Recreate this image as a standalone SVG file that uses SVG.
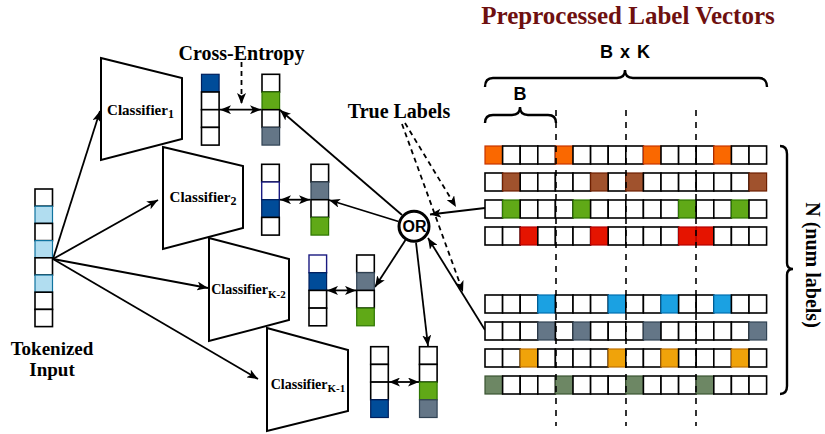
<svg xmlns="http://www.w3.org/2000/svg" width="825" height="434" viewBox="0 0 825 434">
<defs>
<marker id="arr" viewBox="0 0 11 9" refX="11" refY="4.5" markerWidth="11" markerHeight="9" markerUnits="userSpaceOnUse" orient="auto-start-reverse">
<path d="M0,0 L11,4.5 L0,9 L2.8,4.5 z" fill="#000"/>
</marker>
</defs>
<style>
.c{fill:#fff;stroke:#000;stroke-width:1.6}
.lb{fill:#b1ddf0;stroke:#10739e;stroke-width:1.2}
.db{fill:#004c99;stroke:#001f5c;stroke-width:1.2}
.nv{fill:#fff;stroke:#1a1a80;stroke-width:1.4}
.gr{fill:#60a917;stroke:#2d7600;stroke-width:1.2}
.sl{fill:#647687;stroke:#314354;stroke-width:1.2}
.or{fill:#fa6800;stroke:#c73500;stroke-width:1.2}
.br{fill:#a0522d;stroke:#6d1f00;stroke-width:1.2}
.rd{fill:#e51400;stroke:#b20000;stroke-width:1.2}
.bl{fill:#1ba1e2;stroke:#006eaf;stroke-width:1.2}
.am{fill:#f0a30a;stroke:#bd7000;stroke-width:1.2}
.ol{fill:#6d8764;stroke:#3a5431;stroke-width:1.2}
.clf{fill:#fff;stroke:#000;stroke-width:2}
.ar{fill:none;stroke:#000;stroke-width:1.8;marker-end:url(#arr)}
.da{fill:none;stroke:#000;stroke-width:1.8;stroke-dasharray:5 4;marker-end:url(#arr)}
.dd{fill:none;stroke:#000;stroke-width:1.6;stroke-dasharray:6 6}
.brace{fill:none;stroke:#000;stroke-width:2.4}
.serif{font-family:"Liberation Serif","Times New Roman",serif;font-weight:bold}
.sans{font-family:"Liberation Sans",Arial,sans-serif;font-weight:bold}
</style>

<g id="connectors">
<line class="ar" x1="53" y1="259" x2="100" y2="111"/>
<line class="ar" x1="53" y1="259" x2="158" y2="200"/>
<line class="ar" x1="53" y1="259" x2="208" y2="288"/>
<line class="ar" x1="53" y1="259" x2="258" y2="379"/>
<line class="ar" x1="220" y1="109.7" x2="261" y2="109.7" marker-start="url(#arr)"/>
<line class="ar" x1="280" y1="199.7" x2="310" y2="199.7" marker-start="url(#arr)"/>
<line class="ar" x1="327" y1="290.4" x2="356" y2="290.4" marker-start="url(#arr)"/>
<line class="ar" x1="389" y1="382" x2="419" y2="382" marker-start="url(#arr)"/>
<line class="da" x1="241.5" y1="62" x2="241.5" y2="104"/>
<line class="ar" x1="402" y1="215" x2="280" y2="110"/>
<line class="ar" x1="398.5" y1="221.5" x2="329" y2="200"/>
<line class="ar" x1="405.5" y1="240" x2="375" y2="287"/>
<line class="ar" x1="416" y1="242.5" x2="428" y2="346"/>
<line class="ar" x1="485" y1="208" x2="430" y2="214.5"/>
<line class="ar" x1="485" y1="330" x2="428" y2="238"/>
<line class="da" x1="405" y1="123" x2="456" y2="207"/>
<line class="da" x1="402" y1="124" x2="463" y2="292"/>
</g>

<g id="tokenized-input">
<rect class="c" x="35" y="189" width="17.5" height="17.2"/>
<rect class="lb" x="35" y="206.2" width="17.5" height="17.2"/>
<rect class="c" x="35" y="223.4" width="17.5" height="17.2"/>
<rect class="lb" x="35" y="240.6" width="17.5" height="17.2"/>
<rect class="c" x="35" y="257.8" width="17.5" height="17.2"/>
<rect class="lb" x="35" y="275" width="17.5" height="17.2"/>
<rect class="c" x="35" y="292.2" width="17.5" height="17.2"/>
<rect class="c" x="35" y="309.4" width="17.5" height="17.2"/>
<text class="serif" font-size="19" text-anchor="middle" x="52" y="355">Tokenized</text>
<text class="serif" font-size="19" text-anchor="middle" x="52" y="376">Input</text>
</g>

<g id="classifier-1">
<polygon class="clf" points="101,58 182,78 182,139 101,160"/>
<text class="serif" font-size="15" text-anchor="middle" x="140.5" y="115">Classifier<tspan font-size="12" dy="3">1</tspan></text>
</g>
<g id="classifier-2">
<polygon class="clf" points="163,147 243,166 243,228 163,249"/>
<text class="serif" font-size="15" text-anchor="middle" x="203" y="202">Classifier<tspan font-size="12" dy="3">2</tspan></text>
</g>
<g id="classifier-k2">
<polygon class="clf" points="209,238 289,259 289,320 209,341"/>
<text class="serif" font-size="14" text-anchor="middle" x="248.5" y="294">Classifier<tspan font-size="11" dy="3.5">K-2</tspan></text>
</g>
<g id="classifier-k1">
<polygon class="clf" points="267,328 348,350 348,411 267,431"/>
<text class="serif" font-size="14" text-anchor="middle" x="308" y="388.5">Classifier<tspan font-size="11" dy="3.5">K-1</tspan></text>
</g>

<g id="pred-1">
<rect class="db" x="201.5" y="74.3" width="17.6" height="17.7"/>
<rect class="c" x="201.5" y="92" width="17.6" height="17.7"/>
<rect class="c" x="201.5" y="109.7" width="17.6" height="17.7"/>
<rect class="c" x="201.5" y="127.4" width="17.6" height="17.7"/>
</g>
<g id="label-1">
<rect class="c" x="262" y="74.3" width="17.6" height="17.7"/>
<rect class="gr" x="262" y="92" width="17.6" height="17.7"/>
<rect class="c" x="262" y="109.7" width="17.6" height="17.7"/>
<rect class="sl" x="262" y="127.4" width="17.6" height="17.7"/>
</g>
<g id="pred-2">
<rect class="c" x="261.7" y="164.3" width="17.6" height="17.7"/>
<rect class="nv" x="261.7" y="182" width="17.6" height="17.7"/>
<rect class="db" x="261.7" y="199.7" width="17.6" height="17.7"/>
<rect class="c" x="261.7" y="217.4" width="17.6" height="17.7"/>
</g>
<g id="label-2">
<rect class="c" x="311" y="164.3" width="17.6" height="17.7"/>
<rect class="sl" x="311" y="182" width="17.6" height="17.7"/>
<rect class="c" x="311" y="199.7" width="17.6" height="17.7"/>
<rect class="gr" x="311" y="217.4" width="17.6" height="17.7"/>
</g>
<g id="pred-k2">
<rect class="nv" x="309" y="255" width="17.6" height="17.7"/>
<rect class="db" x="309" y="272.7" width="17.6" height="17.7"/>
<rect class="c" x="309" y="290.4" width="17.6" height="17.7"/>
<rect class="c" x="309" y="308.1" width="17.6" height="17.7"/>
</g>
<g id="label-k2">
<rect class="c" x="356.7" y="255" width="17.6" height="17.7"/>
<rect class="sl" x="356.7" y="272.7" width="17.6" height="17.7"/>
<rect class="c" x="356.7" y="290.4" width="17.6" height="17.7"/>
<rect class="gr" x="356.7" y="308.1" width="17.6" height="17.7"/>
</g>
<g id="pred-k1">
<rect class="c" x="370.7" y="346.7" width="17.6" height="17.7"/>
<rect class="c" x="370.7" y="364.4" width="17.6" height="17.7"/>
<rect class="c" x="370.7" y="382.1" width="17.6" height="17.7"/>
<rect class="db" x="370.7" y="399.8" width="17.6" height="17.7"/>
</g>
<g id="label-k1">
<rect class="c" x="419.5" y="346.7" width="17.6" height="17.7"/>
<rect class="c" x="419.5" y="364.4" width="17.6" height="17.7"/>
<rect class="gr" x="419.5" y="382.1" width="17.6" height="17.7"/>
<rect class="sl" x="419.5" y="399.8" width="17.6" height="17.7"/>
</g>

<g id="cross-entropy">
<text class="serif" font-size="20" text-anchor="middle" x="241.5" y="60">Cross-Entropy</text>
</g>
<g id="true-labels">
<text class="serif" font-size="20" text-anchor="middle" x="399" y="118">True Labels</text>
</g>

<g id="or-node">
<circle cx="414" cy="226.3" r="15" fill="#fff" stroke="#000" stroke-width="3"/>
<text class="sans" font-size="16" text-anchor="middle" x="414.5" y="232">OR</text>
</g>

<g id="label-vectors">
<text x="628" y="24" font-size="25" text-anchor="middle" fill="#6e1010" class="serif">Preprocessed Label Vectors</text>
<text class="sans" font-size="18" text-anchor="middle" x="625" y="58" word-spacing="2">B x K</text>
<path class="brace" d="M485,87 Q485,78 493,78 L617,78 Q625,78 625,70 Q625,78 633,78 L759,78 Q767,78 767,87"/>
<text class="sans" font-size="18" text-anchor="middle" x="520" y="100">B</text>
<path class="brace" d="M485,123 Q485,115 493,115 L512,115 Q520,115 520,107 Q520,115 528,115 L548,115 Q556,115 556,123"/>
<path class="brace" d="M780,146 Q787,146 787,154 L787,263 Q787,269 793,269 Q787,269 787,275 L787,386 Q787,394 780,394"/>
<text class="serif" font-size="20" text-anchor="middle" transform="translate(806,265) rotate(90)">N (num labels)</text>
<g id="rows">
<g id="row1">
<rect class="or" x="485" y="146" width="17.6" height="18"/><rect class="c" x="502.6" y="146" width="17.6" height="18"/><rect class="c" x="520.2" y="146" width="17.6" height="18"/><rect class="c" x="537.8" y="146" width="17.6" height="18"/><rect class="or" x="555.4" y="146" width="17.6" height="18"/><rect class="c" x="573" y="146" width="17.6" height="18"/><rect class="c" x="590.6" y="146" width="17.6" height="18"/><rect class="c" x="608.2" y="146" width="17.6" height="18"/><rect class="c" x="625.8" y="146" width="17.6" height="18"/><rect class="or" x="643.4" y="146" width="17.6" height="18"/><rect class="c" x="661" y="146" width="17.6" height="18"/><rect class="c" x="678.6" y="146" width="17.6" height="18"/><rect class="c" x="696.2" y="146" width="17.6" height="18"/><rect class="or" x="713.8" y="146" width="17.6" height="18"/><rect class="c" x="731.4" y="146" width="17.6" height="18"/><rect class="c" x="749" y="146" width="17.6" height="18"/>
</g>
<g id="row2">
<rect class="c" x="485" y="173" width="17.6" height="18"/><rect class="br" x="502.6" y="173" width="17.6" height="18"/><rect class="c" x="520.2" y="173" width="17.6" height="18"/><rect class="c" x="537.8" y="173" width="17.6" height="18"/><rect class="c" x="555.4" y="173" width="17.6" height="18"/><rect class="c" x="573" y="173" width="17.6" height="18"/><rect class="br" x="590.6" y="173" width="17.6" height="18"/><rect class="c" x="608.2" y="173" width="17.6" height="18"/><rect class="br" x="625.8" y="173" width="17.6" height="18"/><rect class="c" x="643.4" y="173" width="17.6" height="18"/><rect class="c" x="661" y="173" width="17.6" height="18"/><rect class="c" x="678.6" y="173" width="17.6" height="18"/><rect class="c" x="696.2" y="173" width="17.6" height="18"/><rect class="c" x="713.8" y="173" width="17.6" height="18"/><rect class="c" x="731.4" y="173" width="17.6" height="18"/><rect class="br" x="749" y="173" width="17.6" height="18"/>
</g>
<g id="row3">
<rect class="c" x="485" y="200" width="17.6" height="18"/><rect class="gr" x="502.6" y="200" width="17.6" height="18"/><rect class="c" x="520.2" y="200" width="17.6" height="18"/><rect class="c" x="537.8" y="200" width="17.6" height="18"/><rect class="c" x="555.4" y="200" width="17.6" height="18"/><rect class="gr" x="573" y="200" width="17.6" height="18"/><rect class="c" x="590.6" y="200" width="17.6" height="18"/><rect class="c" x="608.2" y="200" width="17.6" height="18"/><rect class="c" x="625.8" y="200" width="17.6" height="18"/><rect class="c" x="643.4" y="200" width="17.6" height="18"/><rect class="c" x="661" y="200" width="17.6" height="18"/><rect class="gr" x="678.6" y="200" width="17.6" height="18"/><rect class="c" x="696.2" y="200" width="17.6" height="18"/><rect class="c" x="713.8" y="200" width="17.6" height="18"/><rect class="gr" x="731.4" y="200" width="17.6" height="18"/><rect class="c" x="749" y="200" width="17.6" height="18"/>
</g>
<g id="row4">
<rect class="c" x="485" y="227" width="17.6" height="18"/><rect class="c" x="502.6" y="227" width="17.6" height="18"/><rect class="rd" x="520.2" y="227" width="17.6" height="18"/><rect class="c" x="537.8" y="227" width="17.6" height="18"/><rect class="c" x="555.4" y="227" width="17.6" height="18"/><rect class="c" x="573" y="227" width="17.6" height="18"/><rect class="rd" x="590.6" y="227" width="17.6" height="18"/><rect class="c" x="608.2" y="227" width="17.6" height="18"/><rect class="c" x="625.8" y="227" width="17.6" height="18"/><rect class="c" x="643.4" y="227" width="17.6" height="18"/><rect class="c" x="661" y="227" width="17.6" height="18"/><rect class="rd" x="678.6" y="227" width="17.6" height="18"/><rect class="rd" x="696.2" y="227" width="17.6" height="18"/><rect class="c" x="713.8" y="227" width="17.6" height="18"/><rect class="c" x="731.4" y="227" width="17.6" height="18"/><rect class="c" x="749" y="227" width="17.6" height="18"/>
</g>
<g id="row5">
<rect class="c" x="485" y="295" width="17.6" height="18"/><rect class="c" x="502.6" y="295" width="17.6" height="18"/><rect class="c" x="520.2" y="295" width="17.6" height="18"/><rect class="bl" x="537.8" y="295" width="17.6" height="18"/><rect class="c" x="555.4" y="295" width="17.6" height="18"/><rect class="c" x="573" y="295" width="17.6" height="18"/><rect class="c" x="590.6" y="295" width="17.6" height="18"/><rect class="bl" x="608.2" y="295" width="17.6" height="18"/><rect class="c" x="625.8" y="295" width="17.6" height="18"/><rect class="c" x="643.4" y="295" width="17.6" height="18"/><rect class="bl" x="661" y="295" width="17.6" height="18"/><rect class="c" x="678.6" y="295" width="17.6" height="18"/><rect class="c" x="696.2" y="295" width="17.6" height="18"/><rect class="bl" x="713.8" y="295" width="17.6" height="18"/><rect class="c" x="731.4" y="295" width="17.6" height="18"/><rect class="c" x="749" y="295" width="17.6" height="18"/>
</g>
<g id="row6">
<rect class="c" x="485" y="322" width="17.6" height="18"/><rect class="c" x="502.6" y="322" width="17.6" height="18"/><rect class="c" x="520.2" y="322" width="17.6" height="18"/><rect class="sl" x="537.8" y="322" width="17.6" height="18"/><rect class="c" x="555.4" y="322" width="17.6" height="18"/><rect class="sl" x="573" y="322" width="17.6" height="18"/><rect class="c" x="590.6" y="322" width="17.6" height="18"/><rect class="c" x="608.2" y="322" width="17.6" height="18"/><rect class="c" x="625.8" y="322" width="17.6" height="18"/><rect class="sl" x="643.4" y="322" width="17.6" height="18"/><rect class="c" x="661" y="322" width="17.6" height="18"/><rect class="c" x="678.6" y="322" width="17.6" height="18"/><rect class="c" x="696.2" y="322" width="17.6" height="18"/><rect class="c" x="713.8" y="322" width="17.6" height="18"/><rect class="c" x="731.4" y="322" width="17.6" height="18"/><rect class="sl" x="749" y="322" width="17.6" height="18"/>
</g>
<g id="row7">
<rect class="c" x="485" y="349" width="17.6" height="18"/><rect class="c" x="502.6" y="349" width="17.6" height="18"/><rect class="am" x="520.2" y="349" width="17.6" height="18"/><rect class="c" x="537.8" y="349" width="17.6" height="18"/><rect class="c" x="555.4" y="349" width="17.6" height="18"/><rect class="c" x="573" y="349" width="17.6" height="18"/><rect class="c" x="590.6" y="349" width="17.6" height="18"/><rect class="am" x="608.2" y="349" width="17.6" height="18"/><rect class="c" x="625.8" y="349" width="17.6" height="18"/><rect class="c" x="643.4" y="349" width="17.6" height="18"/><rect class="am" x="661" y="349" width="17.6" height="18"/><rect class="c" x="678.6" y="349" width="17.6" height="18"/><rect class="c" x="696.2" y="349" width="17.6" height="18"/><rect class="c" x="713.8" y="349" width="17.6" height="18"/><rect class="am" x="731.4" y="349" width="17.6" height="18"/><rect class="c" x="749" y="349" width="17.6" height="18"/>
</g>
<g id="row8">
<rect class="ol" x="485" y="376" width="17.6" height="18"/><rect class="c" x="502.6" y="376" width="17.6" height="18"/><rect class="c" x="520.2" y="376" width="17.6" height="18"/><rect class="c" x="537.8" y="376" width="17.6" height="18"/><rect class="ol" x="555.4" y="376" width="17.6" height="18"/><rect class="c" x="573" y="376" width="17.6" height="18"/><rect class="c" x="590.6" y="376" width="17.6" height="18"/><rect class="c" x="608.2" y="376" width="17.6" height="18"/><rect class="ol" x="625.8" y="376" width="17.6" height="18"/><rect class="c" x="643.4" y="376" width="17.6" height="18"/><rect class="c" x="661" y="376" width="17.6" height="18"/><rect class="c" x="678.6" y="376" width="17.6" height="18"/><rect class="ol" x="696.2" y="376" width="17.6" height="18"/><rect class="c" x="713.8" y="376" width="17.6" height="18"/><rect class="c" x="731.4" y="376" width="17.6" height="18"/><rect class="c" x="749" y="376" width="17.6" height="18"/>
</g>
</g>
<line class="dd" x1="556" y1="110" x2="556" y2="426"/>
<line class="dd" x1="626" y1="110" x2="626" y2="426"/>
<line class="dd" x1="696" y1="110" x2="696" y2="426"/>
</g>
</svg>
